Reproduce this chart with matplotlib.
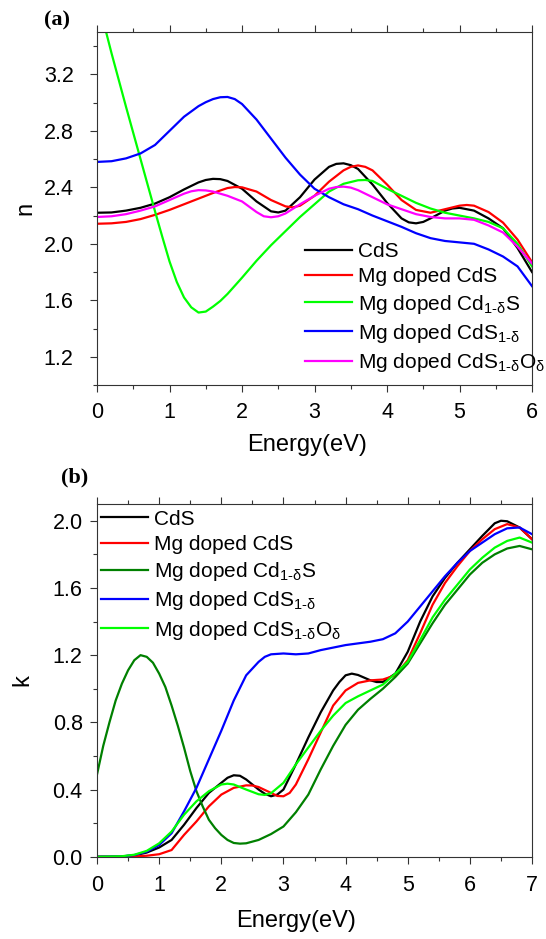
import matplotlib
matplotlib.use("Agg")
import matplotlib.pyplot as plt
from matplotlib.ticker import MultipleLocator, FormatStrFormatter

plt.rcParams['font.family'] = ['Liberation Sans', 'DejaVu Sans']
plt.rcParams['mathtext.fontset'] = 'custom'
plt.rcParams['mathtext.rm'] = 'Liberation Sans'
plt.rcParams['mathtext.it'] = 'Liberation Sans:italic'
plt.rcParams['mathtext.bf'] = 'Liberation Sans:bold'

# ---------------- data: panel (a) refractive index n ----------------
e_n_cds = [0, 0.2, 0.4, 0.6, 0.8, 1.0, 1.2, 1.4, 1.5, 1.6, 1.7, 1.8, 2.0, 2.2, 2.4, 2.5, 2.6, 2.8,
           3.0, 3.2, 3.3, 3.4, 3.5, 3.6, 3.8, 4.0, 4.2, 4.3, 4.4, 4.5, 4.6, 4.8, 4.9, 5.0, 5.2,
           5.4, 5.6, 5.8, 6.0]
n_cds = [2.22, 2.222, 2.235, 2.255, 2.285, 2.33, 2.385, 2.435, 2.452, 2.46, 2.458, 2.445, 2.39,
         2.30, 2.23, 2.222, 2.235, 2.33, 2.455, 2.545, 2.566, 2.57, 2.557, 2.53, 2.42, 2.29,
         2.18, 2.152, 2.145, 2.155, 2.18, 2.235, 2.25, 2.255, 2.235, 2.18, 2.11, 1.97, 1.80]

e_n_mg_cds = [0, 0.2, 0.4, 0.6, 0.8, 1.0, 1.2, 1.4, 1.6, 1.8, 1.9, 2.0, 2.2, 2.4, 2.6, 2.7, 2.8,
              3.0, 3.2, 3.4, 3.5, 3.6, 3.7, 3.8, 4.0, 4.2, 4.4, 4.6, 4.8, 5.0, 5.1, 5.2, 5.4,
              5.6, 5.8, 6.0]
n_mg_cds = [2.142, 2.145, 2.155, 2.175, 2.205, 2.24, 2.28, 2.32, 2.36, 2.395, 2.402, 2.40, 2.37,
            2.31, 2.265, 2.258, 2.27, 2.34, 2.44, 2.52, 2.545, 2.555, 2.545, 2.52, 2.42, 2.31,
            2.24, 2.22, 2.245, 2.27, 2.275, 2.27, 2.225, 2.15, 2.03, 1.87]

e_n_mg_cd1d_s = [0, 0.2, 0.4, 0.6, 0.8, 0.9, 1.0, 1.1, 1.2, 1.3, 1.4, 1.5, 1.6, 1.7, 1.8, 2.0,
                 2.2, 2.4, 2.6, 2.8, 3.0, 3.2, 3.4, 3.6, 3.7, 3.8, 4.0, 4.2, 4.4, 4.6, 4.8,
                 5.0, 5.2, 5.4, 5.6, 5.8, 6.0]
n_mg_cd1d_s = [3.75, 3.35, 2.97, 2.60, 2.23, 2.05, 1.875, 1.73, 1.62, 1.55, 1.513, 1.52, 1.555,
               1.595, 1.645, 1.76, 1.88, 1.99, 2.09, 2.19, 2.28, 2.37, 2.425, 2.45, 2.452,
               2.445, 2.39, 2.34, 2.29, 2.25, 2.22, 2.20, 2.18, 2.155, 2.11, 2.00, 1.84]

e_n_mg_cds1d = [0, 0.2, 0.4, 0.6, 0.8, 1.0, 1.2, 1.4, 1.5, 1.6, 1.7, 1.8, 1.9, 2.0, 2.2, 2.4,
                2.6, 2.8, 3.0, 3.2, 3.4, 3.6, 3.8, 4.0, 4.2, 4.4, 4.6, 4.8, 5.0, 5.2, 5.4, 5.6,
                5.8, 6.0]
n_mg_cds1d = [2.58, 2.585, 2.605, 2.64, 2.70, 2.80, 2.90, 2.975, 3.003, 3.025, 3.038, 3.04,
              3.025, 2.99, 2.88, 2.745, 2.61, 2.49, 2.39, 2.33, 2.28, 2.245, 2.20, 2.16, 2.12,
              2.075, 2.04, 2.02, 2.01, 2.00, 1.96, 1.91, 1.84, 1.70]

e_n_mg_cds1d_od = [0, 0.2, 0.4, 0.6, 0.8, 1.0, 1.2, 1.3, 1.4, 1.5, 1.6, 1.8, 2.0, 2.2, 2.3,
                   2.4, 2.5, 2.6, 2.8, 3.0, 3.2, 3.3, 3.4, 3.5, 3.6, 3.8, 4.0, 4.2, 4.4, 4.6,
                   4.8, 5.0, 5.2, 5.4, 5.6, 5.8, 6.0]
n_mg_cds1d_od = [2.19, 2.195, 2.21, 2.235, 2.265, 2.31, 2.355, 2.372, 2.38, 2.378, 2.37, 2.34,
                 2.30, 2.225, 2.195, 2.188, 2.195, 2.215, 2.28, 2.34, 2.39, 2.402, 2.405,
                 2.398, 2.38, 2.33, 2.28, 2.245, 2.21, 2.19, 2.18, 2.18, 2.17, 2.13, 2.08,
                 1.98, 1.86]

# ---------------- data: panel (b) extinction coefficient k ----------------
e_k_cds = [0, 0.2, 0.4, 0.6, 0.8, 1.0, 1.2, 1.4, 1.6, 1.8, 2.0, 2.1, 2.2, 2.3, 2.4, 2.6, 2.7,
           2.8, 2.9, 3.0, 3.2, 3.4, 3.6, 3.8, 3.9, 4.0, 4.1, 4.2, 4.4, 4.5, 4.6, 4.8, 5.0,
           5.2, 5.4, 5.6, 5.8, 6.0, 6.2, 6.4, 6.5, 6.6, 6.8, 7.0]
k_cds = [0.0, 0.0, 0.002, 0.008, 0.025, 0.055, 0.10, 0.19, 0.29, 0.38, 0.44, 0.47, 0.485,
         0.482, 0.46, 0.40, 0.375, 0.36, 0.37, 0.40, 0.55, 0.71, 0.86, 0.99, 1.04, 1.08,
         1.09, 1.082, 1.05, 1.04, 1.04, 1.09, 1.22, 1.40, 1.55, 1.66, 1.75, 1.83, 1.91,
         1.985, 2.0, 1.997, 1.96, 1.89]

e_k_mg_cds = [0, 0.4, 0.6, 0.8, 1.0, 1.2, 1.4, 1.6, 1.8, 2.0, 2.2, 2.4, 2.5, 2.6, 2.8, 2.9,
              3.0, 3.1, 3.2, 3.4, 3.6, 3.8, 4.0, 4.2, 4.4, 4.6, 4.8, 5.0, 5.2, 5.4, 5.6, 5.8,
              6.0, 6.2, 6.4, 6.6, 6.8, 7.0]
k_mg_cds = [0.0, 0.0, 0.002, 0.006, 0.015, 0.04, 0.13, 0.21, 0.30, 0.37, 0.41, 0.425, 0.424,
            0.415, 0.38, 0.362, 0.36, 0.38, 0.43, 0.58, 0.74, 0.90, 0.99, 1.035, 1.05, 1.055,
            1.08, 1.17, 1.33, 1.50, 1.63, 1.73, 1.82, 1.89, 1.95, 1.98, 1.96, 1.89]

e_k_mg_cd1d_s = [0, 0.1, 0.2, 0.3, 0.4, 0.5, 0.6, 0.7, 0.8, 0.9, 1.0, 1.1, 1.2, 1.3, 1.4, 1.5,
                 1.6, 1.7, 1.8, 1.9, 2.0, 2.1, 2.2, 2.3, 2.4, 2.6, 2.8, 3.0, 3.2, 3.4, 3.6,
                 3.8, 4.0, 4.2, 4.4, 4.6, 4.8, 5.0, 5.2, 5.4, 5.6, 5.8, 6.0, 6.2, 6.4, 6.6,
                 6.8, 7.0]
k_mg_cd1d_s = [0.49, 0.66, 0.80, 0.93, 1.03, 1.11, 1.17, 1.20, 1.19, 1.155, 1.09, 1.01, 0.90,
               0.78, 0.65, 0.51, 0.39, 0.30, 0.22, 0.17, 0.13, 0.10, 0.082, 0.078, 0.08, 0.10,
               0.135, 0.18, 0.265, 0.37, 0.52, 0.66, 0.785, 0.875, 0.94, 1.00, 1.07, 1.15,
               1.27, 1.39, 1.50, 1.59, 1.68, 1.75, 1.80, 1.835, 1.85, 1.83]

e_k_mg_cds1d = [0, 0.4, 0.6, 0.8, 1.0, 1.2, 1.4, 1.6, 1.8, 2.0, 2.2, 2.4, 2.6, 2.7, 2.8, 3.0,
                3.2, 3.4, 3.6, 3.8, 4.0, 4.2, 4.4, 4.6, 4.8, 5.0, 5.2, 5.4, 5.6, 5.8, 6.0, 6.2,
                6.4, 6.6, 6.8, 7.0]
k_mg_cds1d = [0.0, 0.002, 0.01, 0.03, 0.07, 0.14, 0.27, 0.41, 0.58, 0.75, 0.93, 1.08, 1.16,
              1.19, 1.205, 1.21, 1.205, 1.21, 1.23, 1.245, 1.26, 1.27, 1.28, 1.295, 1.33,
              1.40, 1.49, 1.58, 1.67, 1.75, 1.82, 1.87, 1.92, 1.955, 1.96, 1.92]

e_k_mg_cds1d_od = [0, 0.4, 0.6, 0.8, 1.0, 1.2, 1.4, 1.6, 1.8, 2.0, 2.1, 2.2, 2.4, 2.6, 2.7,
                   2.8, 3.0, 3.2, 3.4, 3.6, 3.8, 4.0, 4.2, 4.4, 4.6, 4.8, 5.0, 5.2, 5.4, 5.6,
                   5.8, 6.0, 6.2, 6.4, 6.6, 6.8, 7.0]
k_mg_cds1d_od = [0.0, 0.003, 0.012, 0.035, 0.08, 0.15, 0.25, 0.33, 0.39, 0.43, 0.435, 0.43,
                 0.40, 0.372, 0.368, 0.378, 0.44, 0.55, 0.65, 0.75, 0.84, 0.915, 0.955, 0.99,
                 1.025, 1.09, 1.16, 1.29, 1.425, 1.53, 1.62, 1.71, 1.78, 1.84, 1.88, 1.90, 1.87]

labels = ["CdS", "Mg doped CdS", "Mg doped Cd$_{\\text{1-δ}}$S",
          "Mg doped CdS$_{\\text{1-δ}}$",
          "Mg doped CdS$_{\\text{1-δ}}$O$_{\\text{δ}}$"]

colors_a = ['#000000', '#ff0000', '#00ff00', '#0000ff', '#ff00ff']
colors_b = ['#000000', '#ff0000', '#008000', '#0000ff', '#00ff00']

fig = plt.figure(figsize=(5.46, 9.39), dpi=100)
ax1 = fig.add_axes([0.1777, 0.5900, 0.7967, 0.3759])
ax2 = fig.add_axes([0.1777, 0.0876, 0.7967, 0.3757])

lw = 1.6
series_a = [(e_n_cds, n_cds), (e_n_mg_cds, n_mg_cds), (e_n_mg_cd1d_s, n_mg_cd1d_s),
            (e_n_mg_cds1d, n_mg_cds1d), (e_n_mg_cds1d_od, n_mg_cds1d_od)]
series_b = [(e_k_cds, k_cds), (e_k_mg_cds, k_mg_cds), (e_k_mg_cd1d_s, k_mg_cd1d_s),
            (e_k_mg_cds1d, k_mg_cds1d), (e_k_mg_cds1d_od, k_mg_cds1d_od)]
for (xs, ys), c, lab in zip(series_a, colors_a, labels):
    ax1.plot(xs, ys, color=c, lw=lw, label=lab, solid_joinstyle='round')
for (xs, ys), c, lab in zip(series_b, colors_b, labels):
    ax2.plot(xs, ys, color=c, lw=lw, label=lab, solid_joinstyle='round')

ax1.set_xlim(0, 6)
ax1.set_ylim(1.0, 3.5)
ax2.set_xlim(0, 7)
ax2.set_ylim(0.0, 2.1)

for ax in (ax1, ax2):
    ax.xaxis.set_major_locator(MultipleLocator(1))
    ax.xaxis.set_minor_locator(MultipleLocator(0.5))
    ax.yaxis.set_major_locator(MultipleLocator(0.4))
    ax.yaxis.set_minor_locator(MultipleLocator(0.2))
    ax.yaxis.set_major_formatter(FormatStrFormatter('%.1f'))
    ax.tick_params(which='both', direction='out', top=True, right=False,
                   labeltop=False, labelsize=15.5, width=0.8, color='#333333')
    ax.tick_params(which='major', length=4.8)
    ax.tick_params(which='minor', length=3)
    for s in ax.spines.values():
        s.set_linewidth(0.8)
        s.set_color('#333333')
    ax.set_xlabel('Energy(eV)', fontsize=17)

ax1.tick_params(axis='y', which='both', pad=12)
ax1.tick_params(axis='x', which='both', pad=7.5)
ax2.tick_params(axis='y', which='both', pad=5.5)
ax2.tick_params(axis='x', which='both', pad=8.5)

ax1.set_ylabel('n', fontsize=17)
ax2.set_ylabel('k', fontsize=17)
ax1.xaxis.set_label_coords(0.4825, -0.138)
ax2.xaxis.set_label_coords(0.457, -0.152)
ax1.yaxis.set_label_coords(-0.140, 0.5)
ax2.yaxis.set_label_coords(-0.147, 0.5)

ax1.legend(loc='upper left', bbox_to_anchor=(0.478, 0.405), frameon=False, fontsize=15,
           borderpad=0, borderaxespad=0, handlelength=2.24, handletextpad=0.32,
           labelspacing=0.3)
ax2.legend(loc='upper left', bbox_to_anchor=(0.0092, 0.984), frameon=False, fontsize=15,
           borderpad=0, borderaxespad=0, handlelength=2.24, handletextpad=0.32,
           labelspacing=0.3)

fig.text(56.7 / 546, 1 - 20 / 939, '(a)', family='Liberation Serif', weight='bold',
         fontsize=16, ha='center', va='center')
fig.text(75 / 546, 1 - 477.5 / 939, '(b)', family='Liberation Serif', weight='bold',
         fontsize=16, ha='center', va='center')

fig.savefig('out.png', dpi=100)
